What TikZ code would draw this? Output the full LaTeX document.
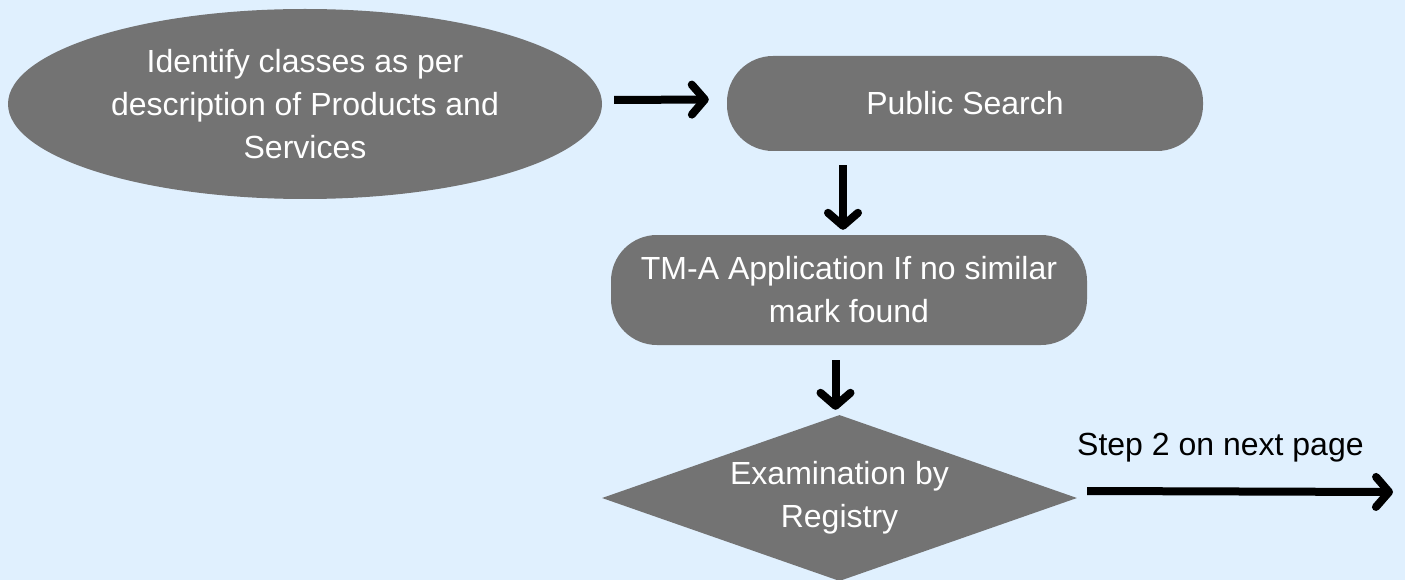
\documentclass[tikz,border=0pt]{standalone}
\usepackage{fontspec}
\setmainfont{Liberation Sans}
\usetikzlibrary{shapes.geometric,arrows.meta,calc}
\definecolor{bgblue}{HTML}{E0F0FE}
\definecolor{boxgrey}{HTML}{737373}
\begin{document}
\begin{tikzpicture}[x=1pt,y=-1pt,
  shapebox/.style={fill=boxgrey,draw=none,text=white,align=center,inner sep=0pt,
    font=\fontsize{32}{43}\selectfont},
  pill/.style={shapebox,rectangle,rounded corners=46pt},
  arr/.style={draw=black,line width=8pt,
    -{Straight Barb[length=13pt,width=30pt,round]}}]
\useasboundingbox[fill=bgblue] (0,0) rectangle (1405,580);
\node[shapebox,ellipse,minimum width=594pt,minimum height=190pt] (id) at (305,104)
  {Identify classes as per\\description of Products and\\Services};
\node[pill,minimum width=476pt,minimum height=95pt] (ps) at (965,103.5) {Public Search};
\node[pill,minimum width=476pt,minimum height=110pt] (tm) at (849,290)
  {TM-A Application If no similar\\mark found};
\node[shapebox,diamond,minimum width=475pt,minimum height=166pt,aspect=2.86] (ex) at (839.5,498)
  {Examination by\\Registry};
\node[anchor=base west,font=\fontsize{32}{38}\selectfont,inner sep=0pt] (lbl) at (1077,455)
  {Step 2 on next page};
\coordinate (nxt) at (1393,492);
\draw[arr] ($(id.east)+(12,-4)$) -- ($(ps.west)+(-18,-4)$);
\draw[arr] ($(tm.north |- ps.south)+(-6,14)$) -- ($(tm.north)+(-6,-5)$);
\draw[arr] ($(ex.north |- tm.south)+(-4,15)$) -- ($(ex.north)+(-4,-5)$);
\draw[arr] ($(ex.east)+(10,-7)$) -- (nxt);
\end{tikzpicture}
\end{document}
